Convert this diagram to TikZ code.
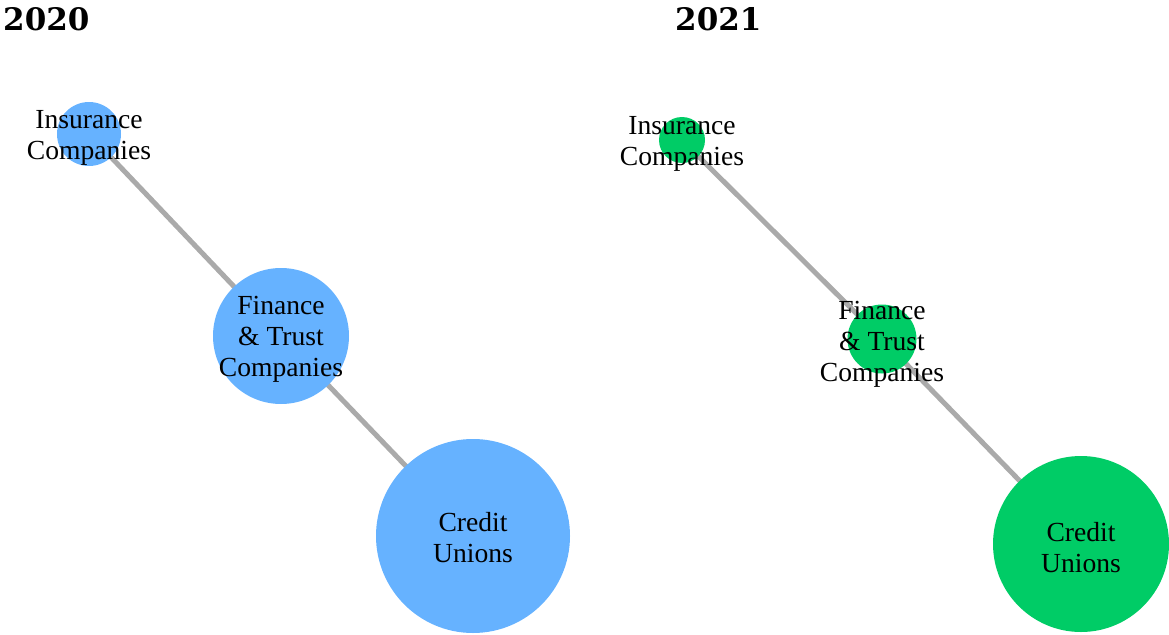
\documentclass[tikz,border=0pt]{standalone}
\usepackage{fontspec}
\setmainfont{Liberation Serif}
\newfontfamily\titlefont{DejaVu Serif}
\definecolor{blue20}{RGB}{102,178,255}
\definecolor{green21}{RGB}{0,204,102}
\definecolor{edgegray}{RGB}{170,170,170}
\pgfdeclarelayer{bg}
\pgfsetlayers{bg,main}
\tikzset{
  bubble/.style={circle, draw=none, inner sep=0pt},
  lbl/.style={align=center, inner sep=0pt, text=black, font=\fontsize{27.6}{31}\selectfont},
  edgeline/.style={draw=edgegray, line width=5pt},
  yeartitle/.style={anchor=base west, inner sep=0pt, font=\titlefont\bfseries\fontsize{31}{36}\selectfont}
}
\begin{document}
\begin{tikzpicture}[x=1pt,y=-1pt]
\useasboundingbox (0,0) rectangle (1169,634);
% titles
\node[yeartitle] (t20) at (3,31) {2020};
\node[yeartitle] (t21) at (675,31) {2021};
% 2020 bubbles
\node[bubble, fill=blue20, minimum size=64pt] (i20) at (89,134) {};
\node[bubble, fill=blue20, minimum size=136pt] (f20) at (281,336) {};
\node[bubble, fill=blue20, minimum size=194pt] (c20) at (473,536) {};
% 2021 bubbles
\node[bubble, fill=green21, minimum size=46pt] (i21) at (682,140) {};
\node[bubble, fill=green21, minimum size=69pt] (f21) at (882,339) {};
\node[bubble, fill=green21, minimum size=176pt] (c21) at (1081,544) {};
% edges
\begin{pgfonlayer}{bg}
\draw[edgeline] (i20.center) -- (f20.center);
\draw[edgeline] (f20.center) -- (c20.center);
\draw[edgeline] (i21.center) -- (f21.center);
\draw[edgeline] (f21.center) -- (c21.center);
\end{pgfonlayer}
% labels
\node[lbl] (li20) at (89,138) {Insurance\\Companies};
\node[lbl] (lf20) at (281,339) {Finance\\\& Trust\\Companies};
\node[lbl] (lc20) at (473,538) {Credit\\Unions};
\node[lbl] (li21) at (682,144) {Insurance\\Companies};
\node[lbl] (lf21) at (882,344) {Finance\\\& Trust\\Companies};
\node[lbl] (lc21) at (1081,548) {Credit\\Unions};
\end{tikzpicture}
\end{document}
